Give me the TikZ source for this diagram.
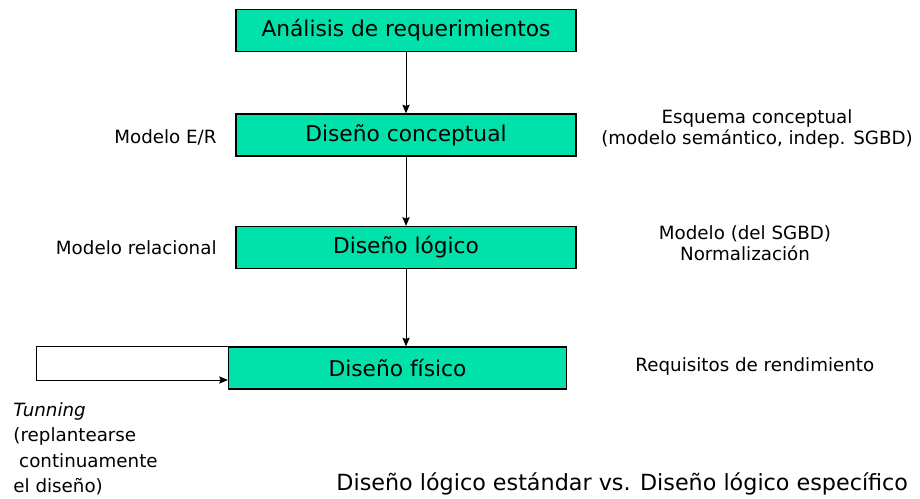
\documentclass[tikz,border=0pt]{standalone}
\usepackage{fontspec}
\setmainfont{DejaVu Sans}
\usetikzlibrary{positioning, arrows.meta}

\definecolor{boxgreen}{RGB}{0,226,170}

\tikzset{
  phase/.style={draw=black, line width=1pt, fill=boxgreen,
    minimum width=255pt, minimum height=31.5pt, inner sep=0pt,
    font=\fontsize{16.3}{19}\selectfont},
  note/.style={inner sep=0pt, font=\fontsize{13.7}{16.1}\selectfont}
}

\begin{document}
\begin{tikzpicture}[>={Stealth[length=6.5pt, width=5.5pt, inset=1pt]},
    x=0.75pt, y=-0.75pt, line width=0.65pt]
    \useasboundingbox (0, 0) rectangle (920, 499);
    % fases del diseno
    \node[phase] (req) at (406, 30.5) {Análisis de requerimientos};
    \node[phase] (con) at (406, 135) {Diseño conceptual};
    \node[phase] (log) at (406, 247.5) {Diseño lógico};
    \node[phase, minimum width=253.5pt] (fis) at (397.5, 368) {Diseño físico};
    \draw[->] (req) -- (con);
    \draw[->] (con) -- (log);
    \draw[->] (log.south) -- (log.south |- fis.north);
    % tunning
    \coordinate (lp) at (36, 380);
    \draw[->] (fis.north west) -| (lp) -- (lp -| fis.west);
    % textos izquierda
    \node[note, anchor=east] (mer) at (217, 137) {Modelo E/R};
    \node[note, anchor=east] (mrel) at (217, 248) {Modelo relacional};
    \node[note, anchor=north west, align=left,
      font=\fontsize{13.7}{19.1}\selectfont] (tun) at (13, 402)
      {\textit{Tunning}\\(replantearse\\\ continuamente\\el diseño)};
    % textos derecha
    \node[note, align=center] (esq) at (757, 129)
      {Esquema conceptual\\(modelo semántico, indep. SGBD)};
    \node[note, align=center] (msg) at (745, 243)
      {Modelo (del SGBD)\\Normalización};
    \node[note, anchor=west] (rend) at (635, 366) {Requisitos de rendimiento};
    \node[note, anchor=west, font=\fontsize{16.7}{19}\selectfont] (vs)
      at (336, 484) {Diseño lógico estándar vs. Diseño lógico específico};
\end{tikzpicture}
\end{document}
